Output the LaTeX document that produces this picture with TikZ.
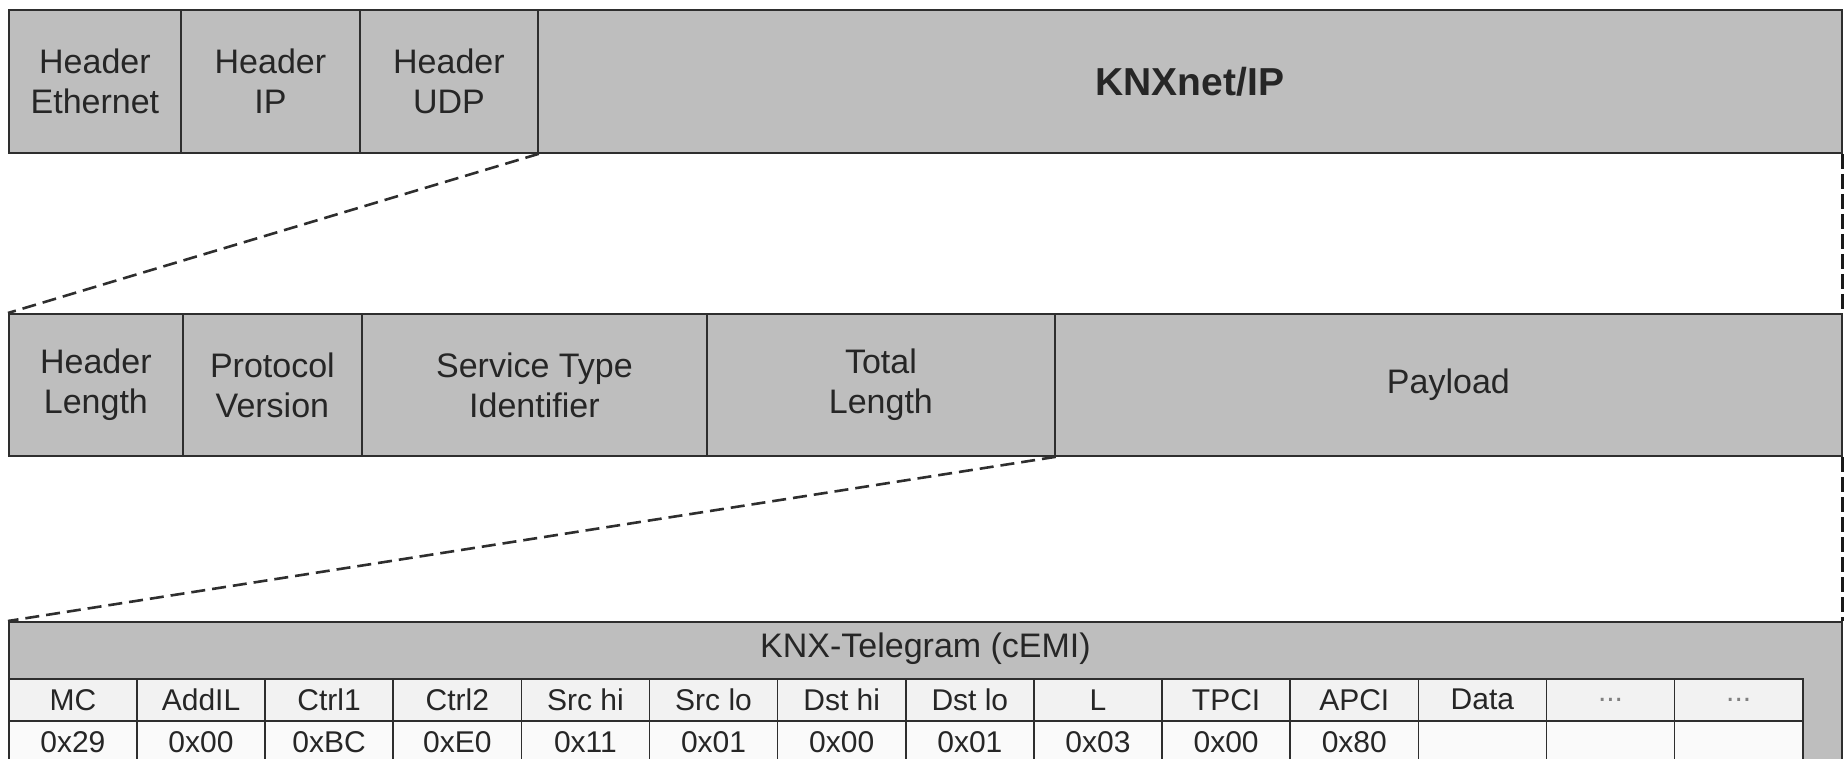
\documentclass[tikz,border=0pt]{standalone}
\usepackage{fontspec}
\setmainfont{Liberation Sans}
\definecolor{boxgray}{HTML}{BEBEBE}
\definecolor{rowgray}{HTML}{F2F2F2}
\definecolor{linegray}{HTML}{2E2E2E}
\tikzset{
  cell/.style={draw=linegray, line width=1.8pt, fill=boxgray, inner sep=0pt, anchor=north west,
    align=center, font=\fontsize{34}{40}\selectfont, text=black!85},
  tcell/.style={draw=linegray, line width=1.6pt, fill=rowgray, inner sep=0pt, anchor=north west,
    font=\fontsize{30}{34}\selectfont, text=black!85, minimum width=128.14pt, minimum height=42pt},
  vcell/.style={tcell, fill=white!98!black},
  zoomline/.style={draw=linegray, line width=2.6pt, dash pattern=on 14pt off 7pt},
  sideline/.style={draw=black!90, line width=3pt, dash pattern=on 15pt off 5pt},
}
\begin{document}
\begin{tikzpicture}[x=1pt,y=-1pt]
\useasboundingbox (0,0) rectangle (1845,758);
\clip (0,0) rectangle (1845,758);
% row 1
\node[cell, minimum width=172pt, minimum height=143pt] (eth) at (8,9) {Header\\Ethernet};
\node[cell, minimum width=179pt, minimum height=143pt] (ip) at (180,9) {Header\\IP};
\node[cell, minimum width=178pt, minimum height=143pt] (udp) at (359,9) {Header\\UDP};
\node[cell, minimum width=1304pt, minimum height=143pt, font=\fontsize{39}{44}\selectfont\bfseries] (knx) at (537,9) {KNXnet/IP};
% row 2
\node[cell, minimum width=174pt, minimum height=142pt] (hl) at (8,313) {Header\\Length};
\node[cell, minimum width=179pt, minimum height=142pt] (pv) at (182,313) {Protocol\\Version};
\node[cell, minimum width=345pt, minimum height=142pt] (sti) at (361,313) {Service Type\\Identifier};
\node[cell, minimum width=348pt, minimum height=142pt] (tl) at (706,313) {Total\\Length};
\node[cell, minimum width=787pt, minimum height=142pt] (pl) at (1054,313) {Payload};
% row 3
\node[cell, minimum width=1833pt, minimum height=200pt] (tele) at (8,621) {};
\node[font=\fontsize{34}{40}\selectfont, text=black!85, inner sep=0pt] (title) at (925.5,649) {KNX-Telegram (cEMI)};
\foreach \lab [count=\i] in {MC,AddIL,Ctrl1,Ctrl2,Src hi,Src lo,Dst hi,Dst lo,L,TPCI,APCI,Data,\textcolor{gray}{...},\textcolor{gray}{...}}{
  \node[tcell] (h\i) at ({8+(\i-1)*128.14},678) {\lab};
}
\foreach \val [count=\i] in {0x29,0x00,0xBC,0xE0,0x11,0x01,0x00,0x01,0x03,0x00,0x80,{},{},{}}{
  \node[vcell] (v\i) at ({8+(\i-1)*128.14},720) {\val};
}
% zoom connectors
\draw[zoomline] (udp.south east) -- (hl.north west);
\draw[sideline] (knx.south east) -- (pl.north east);
\draw[zoomline] (tl.south east) -- (tele.north west);
\draw[sideline] (pl.south east) -- (tele.north east);
\end{tikzpicture}
\end{document}
